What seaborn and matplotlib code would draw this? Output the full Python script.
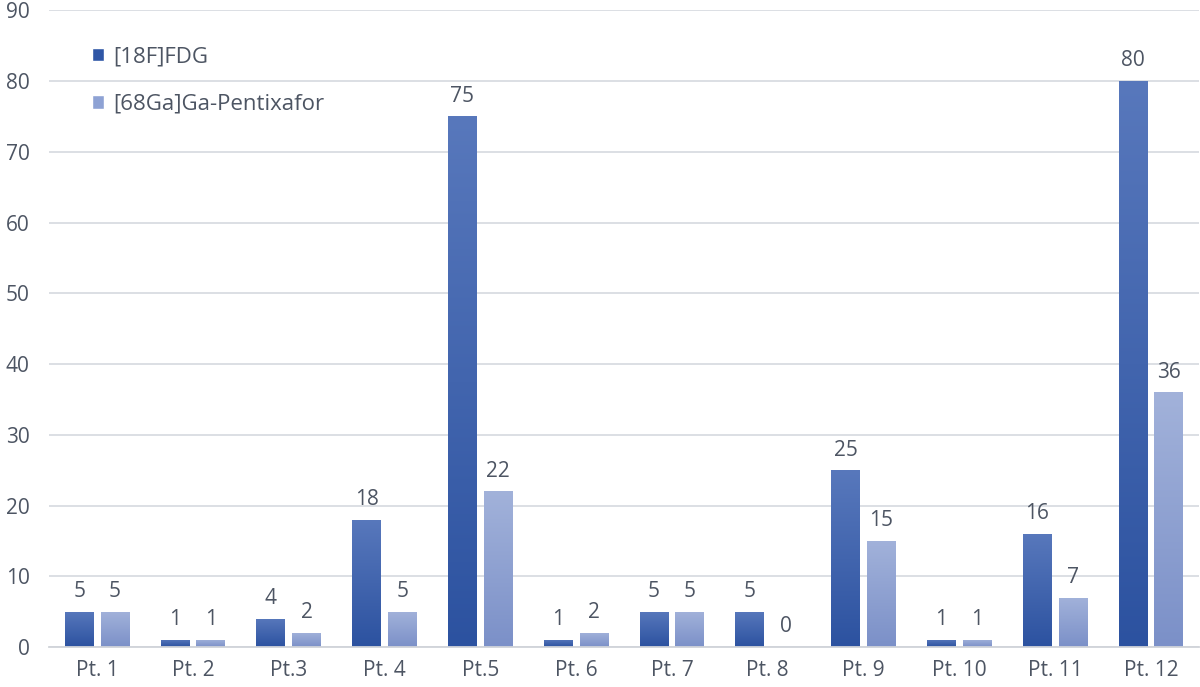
import numpy as np
import pandas as pd
import matplotlib.pyplot as plt
import seaborn as sns
from matplotlib.colors import LinearSegmentedColormap
from matplotlib.patches import Patch

patients = ['Pt. 1', 'Pt. 2', 'Pt.3', 'Pt. 4', 'Pt.5', 'Pt. 6', 'Pt. 7', 'Pt. 8',
            'Pt. 9', 'Pt. 10', 'Pt. 11', 'Pt. 12']
fdg = [5, 1, 4, 18, 75, 1, 5, 5, 25, 1, 16, 80]
pentixafor = [5, 1, 2, 5, 22, 2, 5, 0, 15, 1, 7, 36]
tracers = ['[18F]FDG', '[68Ga]Ga-Pentixafor']

df = pd.DataFrame({
    'patient': patients * 2,
    'value': fdg + pentixafor,
    'tracer': [tracers[0]] * len(patients) + [tracers[1]] * len(patients),
})

sns.set_style('white')
plt.rcParams['font.family'] = ['Open Sans', 'DejaVu Sans']
text_col = '#4d5563'
fs = 15

fig = plt.figure(figsize=(12, 6.87), dpi=100)
ax = fig.add_axes([0.041, 0.058, 0.958, 0.927])

pal = {tracers[0]: '#3a5fab', tracers[1]: '#8c9fd2'}
sns.barplot(data=df, x='patient', y='value', hue='tracer', palette=pal,
            width=0.75, gap=0.2, ax=ax, saturation=1, errorbar=None)

# vertical gradient on each bar
grads = {
    tracers[0]: LinearSegmentedColormap.from_list('g0', ['#2c52a0', '#5878bc']),
    tracers[1]: LinearSegmentedColormap.from_list('g1', ['#7b90c8', '#a2b2da']),
}
grad = np.linspace(0, 1, 256).reshape(-1, 1)
for cont, tr in zip(ax.containers, tracers):
    for bar in cont:
        h = bar.get_height()
        if h <= 0:
            continue
        x0 = bar.get_x()
        w = bar.get_width()
        bar.set_facecolor('none')
        bar.set_edgecolor('none')
        im = ax.imshow(grad, cmap=grads[tr], aspect='auto', origin='lower',
                       extent=[x0, x0 + w, 0, h], zorder=2)
        im.set_clip_path(bar)
    ax.bar_label(cont, padding=7, color=text_col, fontsize=fs)

ax.set_xlim(-0.5, len(patients) - 0.5)
ax.set_ylim(0, 90)
ax.set_yticks(range(0, 91, 10))
ax.yaxis.grid(True, color='#d9dce2', linewidth=1.3)
ax.set_axisbelow(True)
for s in ['top', 'right', 'left']:
    ax.spines[s].set_visible(False)
ax.spines['bottom'].set_color('#d0d3d9')
ax.spines['bottom'].set_linewidth(1.3)
ax.tick_params(axis='both', length=0, labelsize=fs, labelcolor=text_col)
ax.tick_params(axis='x', pad=9)
ax.tick_params(axis='y', pad=14)
ax.set_xlabel('')
ax.set_ylabel('')

handles = [Patch(facecolor='#2f56a6'), Patch(facecolor='#8ea2d4')]
ax.legend(handles, tracers, loc='upper left', bbox_to_anchor=(0.02, 0.975),
          frameon=False, fontsize=16, labelcolor=text_col, labelspacing=1.2,
          handlelength=0.55, handleheight=0.55, handletextpad=0.4)

fig.savefig('out.png', dpi=100)
